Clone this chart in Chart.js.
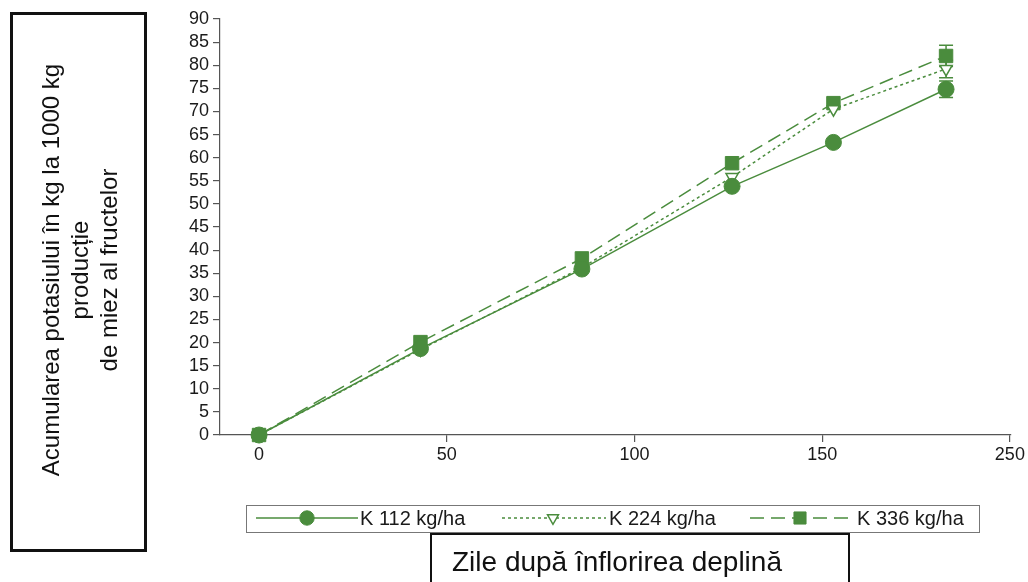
<!DOCTYPE html>
<html>
<head>
<meta charset="utf-8">
<script src="https://cdn.jsdelivr.net/npm/chart.js@4"></script>
<style>
  html, body { margin:0; padding:0; background:#fff; }
  #wrap { position:relative; width:1028px; height:582px; overflow:hidden; background:#fff; }
  #c { position:absolute; left:0; top:0; }
  #ytitle { position:absolute; left:10px; top:12px; width:131px; height:534px; border:3px solid #111; }
  #ytitle .inner { position:absolute; left:50%; top:50%; width:520px; transform:translate(-50%,-50%) translateY(-12px) rotate(-90deg);
     text-align:center; font-family:"Liberation Sans", Arial, sans-serif; font-size:24px; line-height:29px; color:#111; white-space:nowrap; }
  #xtitle { position:absolute; left:430px; top:533px; width:416px; height:60px; border:2px solid #111; border-bottom:none;
     font-family:"Liberation Sans", Arial, sans-serif; font-size:28px; color:#111; }
  #xtitle span { position:absolute; left:20px; top:11px; white-space:nowrap; }
</style>
</head>
<body>
<div id="wrap">
  <canvas id="c" width="1028" height="582"></canvas>
  <div id="ytitle"><div class="inner">Acumularea potasiului în kg la 1000 kg<br>producție<br>de miez al fructelor</div></div>
  <div id="xtitle"><span>Zile după înflorirea deplină</span></div>
</div>
<script>
// ---- data ----
const days = [0, 43, 86, 126, 153, 183];
const seriesNames = ["K 112 kg/ha", "K 224 kg/ha", "K 336 kg/ha"];
const k112 = [0, 18.7, 35.9, 53.8, 63.3, 74.8];
const k224 = [0, 18.5, 36.2, 55.8, 70.5, 79.2];
const k336 = [0, 20.1, 38.2, 58.8, 71.8, 82.0];
const err112 = [0, 0, 0, 0, 0, 1.8];
const err224 = [0, 0, 0, 0, 0, 1.9];
const err336 = [0, 0, 0, 0, 0, 2.3];
const xTickValues = [0, 50, 100, 150, 200];
const xTickLabels = ["0", "50", "100", "150", "250"];

const GREEN = '#4a8c3d';
const toPts = arr => arr.map((v, i) => ({ x: days[i], y: v }));

const errorBars = {
  id: 'errorBars',
  beforeDatasetsDraw(chart) {
    const { ctx, scales: { x, y } } = chart;
    ctx.save();
    chart.data.datasets.forEach(ds => {
      (ds.errors || []).forEach((e, i) => {
        if (!e) return;
        const px = x.getPixelForValue(days[i]);
        const v = ds.data[i].y;
        const t = y.getPixelForValue(v + e), b = y.getPixelForValue(v - e);
        ctx.strokeStyle = GREEN; ctx.lineWidth = 1.5; ctx.setLineDash([]);
        ctx.beginPath();
        ctx.moveTo(px, t); ctx.lineTo(px, b);
        ctx.moveTo(px - 7, t); ctx.lineTo(px + 7, t);
        ctx.moveTo(px - 7, b); ctx.lineTo(px + 7, b);
        ctx.stroke();
      });
    });
    ctx.restore();
  }
};

const boxLegend = {
  id: 'boxLegend',
  afterDraw(chart) {
    const ctx = chart.ctx;
    const yc = 518;
    ctx.save();
    ctx.strokeStyle = '#777'; ctx.lineWidth = 1; ctx.setLineDash([]);
    ctx.strokeRect(246.5, 505.5, 733, 27);
    const items = [
      { s: 256, e: 358, m: 307, t: 360 },
      { s: 502, e: 606, m: 553, t: 609 },
      { s: 750, e: 855, m: 800, t: 857 }
    ];
    chart.data.datasets.forEach((ds, i) => {
      const it = items[i];
      ctx.strokeStyle = GREEN; ctx.lineWidth = 1.5;
      ctx.setLineDash(ds.borderDash || []);
      ctx.beginPath(); ctx.moveTo(it.s, yc); ctx.lineTo(it.e, yc); ctx.stroke();
      ctx.setLineDash([]);
      ctx.fillStyle = ds.pointBackgroundColor; ctx.strokeStyle = GREEN;
      ctx.lineWidth = ds.pointBorderWidth;
      Chart.helpers.drawPoint(ctx, { pointStyle: ds.pointStyle, rotation: ds.pointRotation || 0,
        radius: ds.pointRadius * 0.9, borderWidth: ds.pointBorderWidth }, it.m, yc);
      ctx.fillStyle = '#1a1a1a';
      ctx.font = '20px "Liberation Sans", Arial, sans-serif';
      ctx.textBaseline = 'middle'; ctx.textAlign = 'left';
      ctx.fillText(ds.label, it.t, yc + 1);
    });
    ctx.restore();
  }
};

const tickFont = { family: '"Liberation Sans", Arial, sans-serif', size: 18 };

new Chart(document.getElementById('c'), {
  type: 'line',
  data: {
    datasets: [
      { label: seriesNames[0], data: toPts(k112), errors: err112, borderColor: GREEN, borderWidth: 1.5,
        pointStyle: 'circle', pointRadius: 8, pointBackgroundColor: GREEN, pointBorderColor: GREEN,
        pointBorderWidth: 1, clip: false },
      { label: seriesNames[1], data: toPts(k224), errors: err224, borderColor: GREEN, borderWidth: 1.5,
        borderDash: [3, 3], pointStyle: 'triangle', pointRotation: 180, pointRadius: 7,
        pointBackgroundColor: '#fff', pointBorderColor: GREEN, pointBorderWidth: 1.5, clip: false },
      { label: seriesNames[2], data: toPts(k336), errors: err336, borderColor: GREEN, borderWidth: 1.5,
        borderDash: [14, 7], pointStyle: 'rect', pointRadius: 9.5, pointBackgroundColor: GREEN,
        pointBorderColor: GREEN, pointBorderWidth: 1, clip: false }
    ]
  },
  options: {
    responsive: false,
    devicePixelRatio: 1,
    animation: false,
    layout: { padding: { left: 180, top: 19, right: 17, bottom: 117 } },
    plugins: { legend: { display: false }, tooltip: { enabled: false } },
    scales: {
      x: {
        type: 'linear', min: -10.4, max: 200.3,
        afterBuildTicks: s => { s.ticks = xTickValues.map(v => ({ value: v })); },
        afterFit: s => { s.height = 30; },
        ticks: { font: tickFont, color: '#1a1a1a', padding: 2, maxRotation: 0, autoSkip: false,
          callback: (v, i) => xTickLabels[i] },
        grid: { display: true, drawOnChartArea: false, drawTicks: true, tickLength: 7, color: '#555', lineWidth: 1.2 },
        border: { color: '#555', width: 1.2 }
      },
      y: {
        min: 0, max: 90,
        afterFit: s => { s.width = 40; },
        ticks: { stepSize: 5, font: tickFont, color: '#1a1a1a', padding: 4, autoSkip: false },
        grid: { display: true, drawOnChartArea: false, drawTicks: true, tickLength: 7, color: '#555', lineWidth: 1.2 },
        border: { color: '#555', width: 1.2 }
      }
    }
  },
  plugins: [errorBars, boxLegend]
});
</script>
</body>
</html>
